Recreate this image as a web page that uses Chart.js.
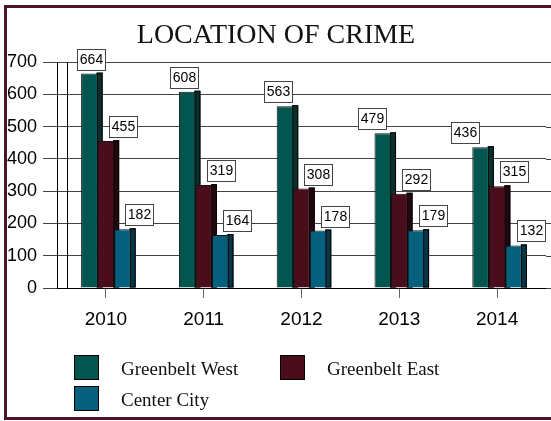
<!DOCTYPE html>
<html>
<head>
<meta charset="utf-8">
<script src="https://cdn.jsdelivr.net/npm/chart.js@4.4.1/dist/chart.umd.min.js"></script>
<style>
  body { margin: 0; background: #fff; overflow: hidden; }
  #wrap { position: relative; width: 551px; height: 421px; overflow: hidden; }
  #chart { position: absolute; left: 0; top: 0; }
  #frame {
    position: absolute; left: 4px; top: 5px; width: 600px; height: 415px;
    box-sizing: border-box; border: 3px solid #4e1426; pointer-events: none;
  }
</style>
</head>
<body>
<div id="wrap">
  <canvas id="chart" width="551" height="421"></canvas>
  <div id="frame"></div>
</div>
<script>
// Data
const years = ["2010", "2011", "2012", "2013", "2014"];
const greenbeltWest = [664, 608, 563, 479, 436];
const greenbeltEast = [455, 319, 308, 292, 315];
const centerCity = [182, 164, 178, 179, 132];
const yTicks = [0, 100, 200, 300, 400, 500, 600, 700];

const sans = '"Liberation Sans", Arial, sans-serif';
const serif = '"Liberation Serif", "Times New Roman", serif';

// dark right-hand faces of the 3D bars, drawn under the fronts
const sideFaces = {
  id: "sideFaces",
  beforeDatasetsDraw(chart) {
    const ctx = chart.ctx;
    const area = chart.chartArea;
    const yScale = chart.scales.y;
    ctx.save();
    ctx.lineWidth = 1;
    // gridlines run on to the right edge of the picture
    ctx.strokeStyle = "#444";
    yScale.ticks.forEach((t) => {
      const y = Math.round(yScale.getPixelForValue(t.value)) + 0.5;
      ctx.beginPath();
      ctx.moveTo(area.right, y);
      ctx.lineTo(chart.width, y);
      ctx.stroke();
    });
    // back wall line of the 3D frame
    ctx.strokeStyle = "#000";
    ctx.beginPath();
    ctx.moveTo(Math.round(area.left + 10) + 0.5, area.top);
    ctx.lineTo(Math.round(area.left + 10) + 0.5, area.bottom);
    ctx.stroke();
    chart.data.datasets.forEach((ds, i) => {
      chart.getDatasetMeta(i).data.forEach((bar) => {
        const right = bar.x + bar.width / 2;
        ctx.fillStyle = ds.sideColor;
        ctx.fillRect(right - 1, bar.y - 1, 6, bar.base - bar.y + 1);
        ctx.strokeStyle = "#000";
        ctx.strokeRect(right - 0.5, bar.y - 0.5, 5, bar.base - bar.y);
      });
    });
    ctx.restore();
  },
};

// boxed value labels above the bars
const valueBoxes = {
  id: "valueBoxes",
  afterDatasetsDraw(chart) {
    const ctx = chart.ctx;
    ctx.save();
    ctx.font = "14px " + sans;
    ctx.textAlign = "center";
    ctx.textBaseline = "middle";
    chart.data.datasets.forEach((ds, i) => {
      chart.getDatasetMeta(i).data.forEach((bar, j) => {
        const text = String(ds.data[j]);
        const w = Math.round(ctx.measureText(text).width + 5);
        const h = 21;
        const dx = i === 0 ? 1.5 - 4.2 * j : 17;
        const left = Math.round(bar.x + dx - w / 2);
        const top = Math.round(bar.y - 4 - h);
        ctx.fillStyle = "#fff";
        ctx.fillRect(left, top, w, h);
        ctx.strokeStyle = "#444";
        ctx.lineWidth = 1;
        ctx.strokeRect(left + 0.5, top + 0.5, w, h);
        ctx.fillStyle = "#000";
        ctx.fillText(text, left + w / 2 + 0.5, top + h / 2 + 1);
      });
    });
    ctx.restore();
  },
};

// legend laid out in two columns like the reference
const boxLegend = {
  id: "boxLegend",
  afterDraw(chart) {
    const ctx = chart.ctx;
    const spots = [
      [74, 355],
      [280, 355],
      [74, 386],
    ];
    ctx.save();
    ctx.font = "19px " + serif;
    ctx.textBaseline = "alphabetic";
    ctx.textAlign = "left";
    chart.data.datasets.forEach((ds, i) => {
      const [x, y] = spots[i];
      ctx.fillStyle = ds.backgroundColor;
      ctx.fillRect(x, y, 25, 25);
      ctx.strokeStyle = "#000";
      ctx.lineWidth = 1;
      ctx.strokeRect(x + 0.5, y + 0.5, 24, 24);
      ctx.fillStyle = "#111";
      ctx.fillText(ds.label, x + 47, y + 20);
    });
    ctx.restore();
  },
};

const canvas = document.querySelector("#chart");

new Chart(canvas.getContext("2d"), {
  type: "bar",
  data: {
    labels: years,
    datasets: [
      {
        label: "Greenbelt West",
        data: greenbeltWest,
        backgroundColor: "#02564f",
        sideColor: "#0a302b",
      },
      {
        label: "Greenbelt East",
        data: greenbeltEast,
        backgroundColor: "#4a0d1c",
        sideColor: "#22070e",
      },
      {
        label: "Center City",
        data: centerCity,
        backgroundColor: "#05607e",
        sideColor: "#083444",
      },
    ],
  },
  options: {
    responsive: false,
    animation: false,
    devicePixelRatio: 1,
    datasets: {
      bar: {
        borderColor: "#111",
        borderWidth: 1,
        categoryPercentage: 0.507,
        barPercentage: 1,
      },
    },
    layout: { padding: { left: 6, right: 5, top: 0, bottom: 0 } },
    plugins: {
      legend: { display: false },
      tooltip: { enabled: false },
      title: {
        display: true,
        text: "LOCATION OF CRIME",
        color: "#111",
        font: { family: serif, size: 28, weight: "normal" },
        padding: { top: 19.2, bottom: 9.2 },
      },
    },
    scales: {
      x: {
        grid: {
          offset: false,
          drawOnChartArea: false,
          drawTicks: true,
          tickLength: 10,
          color: "#666",
        },
        border: { display: true, color: "#000" },
        ticks: {
          color: "#000",
          padding: 10,
          font: { family: sans, size: 19 },
        },
        afterFit(scale) {
          scale.height = 133;
        },
      },
      y: {
        min: 0,
        max: 700,
        afterBuildTicks(scale) {
          scale.ticks = yTicks.map((v) => ({ value: v }));
        },
        grid: { color: "#444", tickLength: 14 },
        border: { display: true, color: "#000" },
        ticks: {
          color: "#000",
          padding: 6,
          font: { family: sans, size: 18 },
        },
        afterFit(scale) {
          scale.width = 51;
        },
      },
    },
  },
  plugins: [sideFaces, valueBoxes, boxLegend],
});
</script>
</body>
</html>
